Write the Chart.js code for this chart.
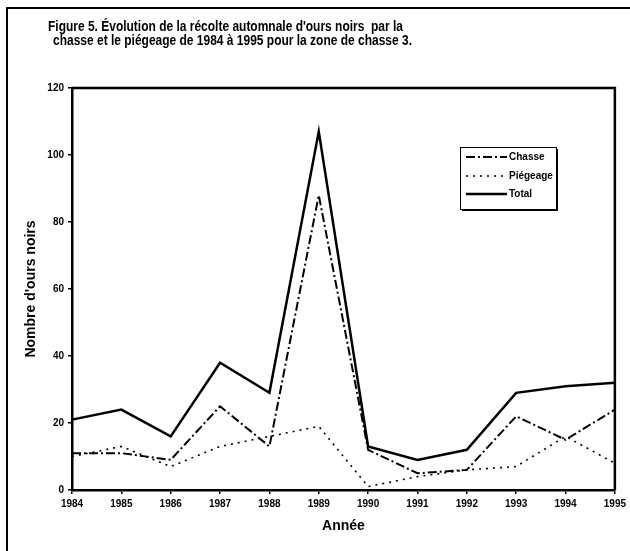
<!DOCTYPE html>
<html>
<head>
<meta charset="utf-8">
<script src="https://cdn.jsdelivr.net/npm/chart.js@4"></script>
<style>
  html, body { margin: 0; padding: 0; background: #fff; }
  #wrap { width: 630px; height: 551px; }
</style>
</head>
<body>
<div id="wrap"><canvas id="chart"></canvas></div>
<script>
// Data
var years = ['1984', '1985', '1986', '1987', '1988', '1989', '1990', '1991', '1992', '1993', '1994', '1995'];
var chasse = [11, 11, 9, 25, 13, 88, 12, 5, 6, 22, 15, 24];
var piegeage = [10, 13, 7, 13, 16, 19, 1, 4, 6, 7, 16, 8];
var total = [21, 24, 16, 38, 29, 107, 13, 9, 12, 29, 31, 32];
var yTicks = [0, 20, 40, 60, 80, 100, 120];

var titleLines = [
    "Figure 5. Évolution de la récolte automnale d'ours noirs  par la",
    "chasse et le piégeage de 1984 à 1995 pour la zone de chasse 3."
];

var fontFamily = "'Liberation Sans', Arial, sans-serif";

// Frame, title, plot border and legend
var decor = {
    id: 'decor',
    afterDraw: function(chart){
        var ctx = chart.ctx;
        var area = chart.chartArea;
        ctx.save();

        // outer frame (top + left)
        ctx.strokeStyle = '#000';
        ctx.lineWidth = 2;
        ctx.beginPath();
        ctx.moveTo(6, 8);
        ctx.lineTo(630, 8);
        ctx.moveTo(7, 8);
        ctx.lineTo(7, 551);
        ctx.stroke();

        // title
        ctx.fillStyle = '#000';
        ctx.font = 'bold 15px ' + fontFamily;
        ctx.textAlign = 'left';
        ctx.textBaseline = 'middle';
        ctx.fillText(titleLines[0], 48, 27, 355);
        ctx.fillText(titleLines[1], 53, 41, 359);

        // plot top and right border
        ctx.lineWidth = 2.5;
        ctx.beginPath();
        ctx.moveTo(area.left, area.top);
        ctx.lineTo(area.right, area.top);
        ctx.lineTo(area.right, area.bottom);
        ctx.stroke();

        // legend box with shadow
        var bx = 460, by = 147, bw = 96, bh = 62;
        ctx.fillStyle = '#000';
        ctx.fillRect(bx + 2, by + 2, bw, bh);
        ctx.fillStyle = '#fff';
        ctx.fillRect(bx, by, bw, bh);
        ctx.lineWidth = 1;
        ctx.strokeStyle = '#000';
        ctx.strokeRect(bx + 0.5, by + 0.5, bw, bh);

        var rows = [157, 176, 194];
        chart.data.datasets.forEach(function(ds, i){
            var y = rows[i];
            ctx.beginPath();
            ctx.setLineDash(ds.borderDash || []);
            ctx.lineWidth = ds.borderWidth;
            ctx.strokeStyle = '#000';
            ctx.moveTo(466, y);
            ctx.lineTo(507, y);
            ctx.stroke();
            ctx.setLineDash([]);
            ctx.fillStyle = '#000';
            ctx.font = 'bold 10px ' + fontFamily;
            ctx.textAlign = 'left';
            ctx.fillText(ds.label, 509, y, 45);
        });
        ctx.restore();
    }
};

var chart = new Chart(document.getElementById('chart'), {
    type: 'line',
    data: {
        labels: years,
        datasets: [
            {
                label: 'Chasse',
                data: chasse,
                borderColor: '#000',
                borderWidth: 2,
                borderDash: [9, 3, 2, 3],
                pointRadius: 0,
                tension: 0,
                fill: false
            },
            {
                label: 'Piégeage',
                data: piegeage,
                borderColor: '#000',
                borderWidth: 1.6,
                borderDash: [2, 5],
                pointRadius: 0,
                tension: 0,
                fill: false
            },
            {
                label: 'Total',
                data: total,
                borderColor: '#000',
                borderWidth: 2.5,
                pointRadius: 0,
                tension: 0,
                fill: false
            }
        ]
    },
    options: {
        responsive: true,
        maintainAspectRatio: false,
        animation: false,
        layout: { padding: { top: 88, right: 14, left: 0, bottom: 0 } },
        plugins: {
            legend: { display: false },
            title: { display: false },
            tooltip: { enabled: false }
        },
        scales: {
            x: {
                offset: false,
                border: { color: '#000', width: 2.5 },
                grid: { display: true, drawOnChartArea: false, drawTicks: true, tickLength: 4, color: '#000', lineWidth: 1.5 },
                ticks: {
                    color: '#000',
                    font: { family: fontFamily, size: 10, weight: 'bold' },
                    padding: 4,
                    maxRotation: 0,
                    autoSkip: false
                },
                title: {
                    display: true,
                    text: 'Année',
                    color: '#000',
                    font: { family: fontFamily, size: 14, weight: 'bold' },
                    padding: { top: 0, bottom: 16 }
                },
                afterFit: function(scale){ scale.height = 61; }
            },
            y: {
                min: 0,
                max: 120,
                border: { color: '#000', width: 2.5 },
                grid: { display: true, drawOnChartArea: false, drawTicks: true, tickLength: 4, color: '#000', lineWidth: 1.5 },
                ticks: {
                    stepSize: 20,
                    color: '#000',
                    font: { family: fontFamily, size: 10, weight: 'bold' },
                    padding: 4,
                    callback: function(v){ return yTicks.indexOf(v) >= 0 ? String(v) : ''; }
                },
                title: {
                    display: true,
                    text: "Nombre d'ours noirs",
                    color: '#000',
                    font: { family: fontFamily, size: 14, weight: 'bold' },
                    padding: { top: 23, bottom: 0 }
                },
                afterFit: function(scale){ scale.width = 72; }
            }
        }
    },
    plugins: [decor]
});
</script>
</body>
</html>
